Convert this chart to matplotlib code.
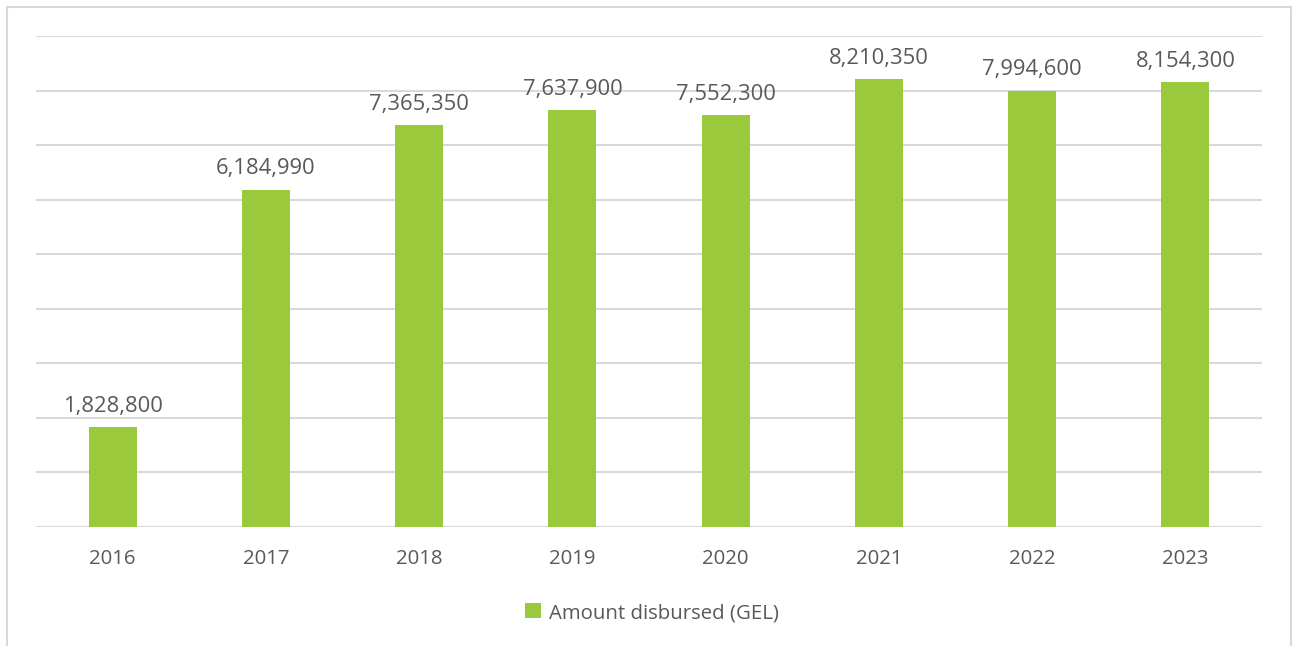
import matplotlib
matplotlib.use("Agg")
import matplotlib.pyplot as plt
from matplotlib.patches import Rectangle

years = ["2016", "2017", "2018", "2019", "2020", "2021", "2022", "2023"]
amounts = [1828800, 6184990, 7365350, 7637900, 7552300, 8210350, 7994600, 8154300]
series_name = "Amount disbursed (GEL)"

BAR = "#9ACA3C"
TEXT = "#595959"
GRID = "#D9D9D9"

plt.rcParams["font.family"] = ["Open Sans", "DejaVu Sans"]

W, H = 1292, 646
fig = plt.figure(figsize=(W / 100, H / 100), dpi=100)
fig.patch.set_facecolor("white")

# chart frame
fig.patches.append(Rectangle((6.5 / W, -0.05), (1291 - 6.5) / W, 1.05 - 7.5 / H,
                             transform=fig.transFigure, fill=False,
                             edgecolor=GRID, linewidth=1.5))

ax = fig.add_axes([36 / W, 1 - 527 / H, (1262 - 36) / W, (527 - 36) / H])
x = list(range(len(years)))
ax.bar(x, amounts, width=0.313, color=BAR, zorder=3, label=series_name)
ax.set_xlim(-0.5, len(years) - 0.5)
ax.set_ylim(0, 9000000)
ax.set_yticks(range(0, 9000001, 1000000))
ax.yaxis.grid(True, color=GRID, linewidth=1.5, zorder=0)
ax.tick_params(axis="y", left=False, labelleft=False)
ax.tick_params(axis="x", bottom=False, labelsize=14.7, colors=TEXT, pad=12)
ax.set_xticks(x)
ax.set_xticklabels(years)
for s in ax.spines.values():
    s.set_visible(False)
ax.axhline(0, color=GRID, linewidth=1.5, zorder=2)

for xi, v in zip(x, amounts):
    ax.annotate(f"{v:,}", (xi, v), xytext=(0, 7.5), textcoords="offset points",
                ha="center", va="bottom", fontsize=15.8, color=TEXT)

leg = fig.legend(loc="center", bbox_to_anchor=(652 / W, 1 - 613 / H), frameon=False,
                 fontsize=14.7, handlelength=0.75, handleheight=0.75,
                 handletextpad=0.4, labelcolor=TEXT)

fig.savefig("out.png", dpi=100, facecolor="white")
